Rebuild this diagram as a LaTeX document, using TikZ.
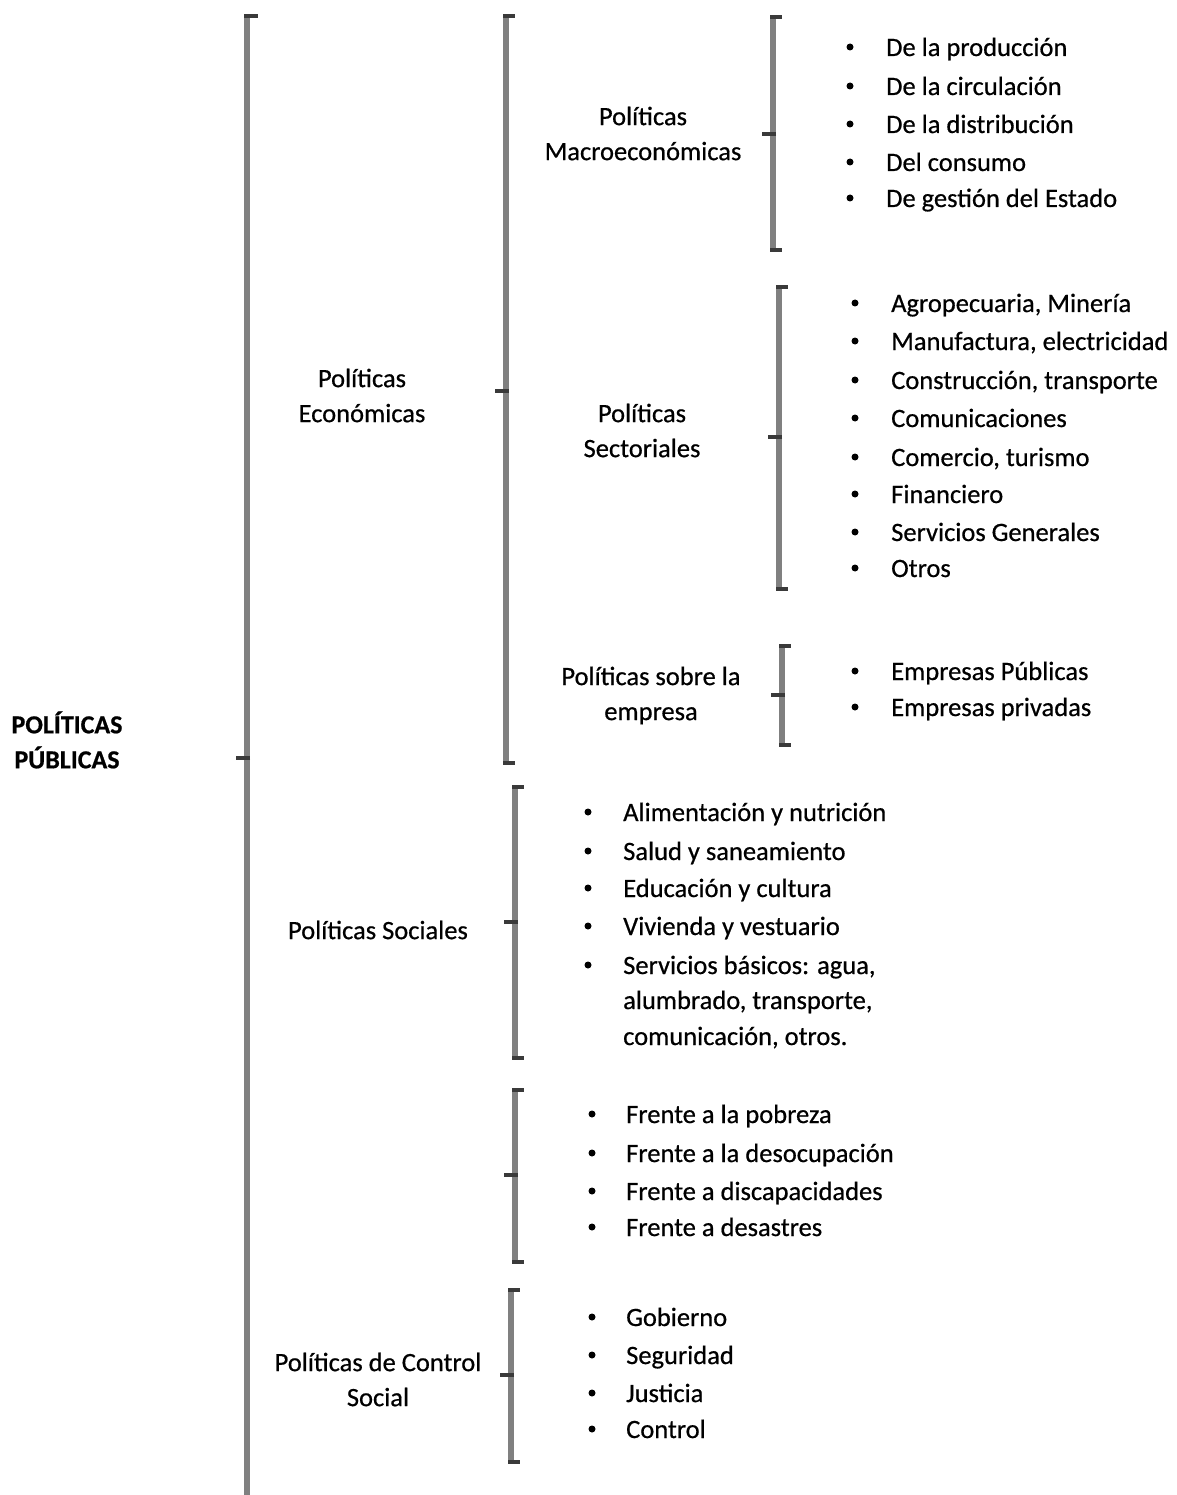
\documentclass[tikz,border=0pt]{standalone}
\usepackage{fontspec}
\setmainfont{Carlito}[FakeBold=0.6]
\definecolor{bargray}{HTML}{808080}
\definecolor{hookgray}{HTML}{3A3A3A}
\newcommand\bkt[5]{% name, x, top, mid, bottom
  \coordinate (#1-top) at (#2,#3);
  \coordinate (#1-mid) at (#2,#4);
  \coordinate (#1-bot) at (#2,#5);
  \draw[barline] (#1-top) -- (#1-bot);
  \draw[hook] ([xshift=-3pt]#1-top) -- ([xshift=9pt]#1-top);
  \draw[hook] ([xshift=-3pt]#1-bot) -- ([xshift=9pt]#1-bot);
  \draw[hook] ([xshift=3pt]#1-mid) -- ([xshift=-11pt]#1-mid);
}
\begin{document}
\begin{tikzpicture}[x=1pt,y=-1pt,
  lbl/.style={align=center, font=\fontsize{26.5}{35}\selectfont, inner sep=0pt},
  item/.style={anchor=west, font=\fontsize{26.5}{36}\selectfont, inner sep=0pt, text height=18pt, text depth=6pt, yshift=-3pt},
  bul/.style={circle, fill=black, inner sep=0pt, minimum size=7pt},
  barline/.style={draw=bargray, line width=6pt},
  hook/.style={draw=hookgray, line width=3.5pt}]
\useasboundingbox (0,0) rectangle (1176,1495);

% main bracket
\coordinate (b0-top) at (247,16);
\coordinate (b0-mid) at (247,758);
\coordinate (b0-bot) at (247,1500);
\draw[barline] (b0-top) -- (b0-bot);
\draw[hook] ([xshift=-3pt]b0-top) -- ([xshift=11pt]b0-top);
\draw[hook] ([xshift=3pt]b0-mid) -- ([xshift=-11pt]b0-mid);

\bkt{b1}{506}{16}{391}{763}
\bkt{b2}{773}{17}{134}{250}
\bkt{b3}{779}{287}{437}{589}
\bkt{b4}{782}{646}{695}{745}
\bkt{b5}{515}{787}{922}{1058}
\bkt{b6}{515}{1090}{1175}{1262}
\bkt{b7}{511}{1290}{1375}{1462}

% labels
\node[lbl, font=\fontsize{26}{35}\selectfont\bfseries] (title) at (67,740) {POLÍTICAS\\PÚBLICAS};
\node[lbl] (econ) at (362,395.5) {Políticas\\Económicas};
\node[lbl] (macro) at (643,133.5) {Políticas\\Macroeconómicas};
\node[lbl] (sect) at (642,430.5) {Políticas\\Sectoriales};
\node[lbl] (emp) at (651,695.5) {Políticas sobre la\\empresa};
\node[lbl] (soc) at (378,930) {Políticas Sociales};
\node[lbl] (ctrl) at (378,1379.5) {Políticas de Control\\Social};

% lists
\foreach \y/\t [count=\i] in {47/{De la producción},86/{De la circulación},124/{De la distribución},162/{Del consumo},198/{De gestión del Estado}}{
  \node[bul] (mb-\i) at (850,\y) {};
  \node[item] (m-\i) at (886,\y) {\t};
}
\foreach \y/\t [count=\i] in {303/{Agropecuaria, Minería},341/{Manufactura, electricidad},380/{Construcción, transporte},418/{Comunicaciones},457/{Comercio, turismo},494/{Financiero},532/{Servicios Generales},568/{Otros}}{
  \node[bul] (sb-\i) at (855,\y) {};
  \node[item] (s-\i) at (891,\y) {\t};
}
\foreach \y/\t [count=\i] in {671/{Empresas Públicas},707/{Empresas privadas}}{
  \node[bul] (eb-\i) at (855,\y) {};
  \node[item] (e-\i) at (891,\y) {\t};
}
\foreach \y/\t [count=\i] in {812/{Alimentación y nutrición},851/{Salud y saneamiento},888/{Educación y cultura},926/{Vivienda y vestuario},965/{Servicios básicos: agua,}}{
  \node[bul] (cb-\i) at (588,\y) {};
  \node[item] (c-\i) at (623,\y) {\t};
}
\node[item] (c-6) at (623,1000) {alumbrado, transporte,};
\node[item] (c-7) at (623,1036) {comunicación, otros.};
\foreach \y/\t [count=\i] in {1114/{Frente a la pobreza},1153/{Frente a la desocupación},1191/{Frente a discapacidades},1227/{Frente a desastres}}{
  \node[bul] (fb-\i) at (592,\y) {};
  \node[item] (f-\i) at (626,\y) {\t};
}
\foreach \y/\t [count=\i] in {1317/{Gobierno},1355/{Seguridad},1393/{Justicia},1429/{Control}}{
  \node[bul] (gb-\i) at (592,\y) {};
  \node[item] (g-\i) at (626,\y) {\t};
}
\end{tikzpicture}
\end{document}
